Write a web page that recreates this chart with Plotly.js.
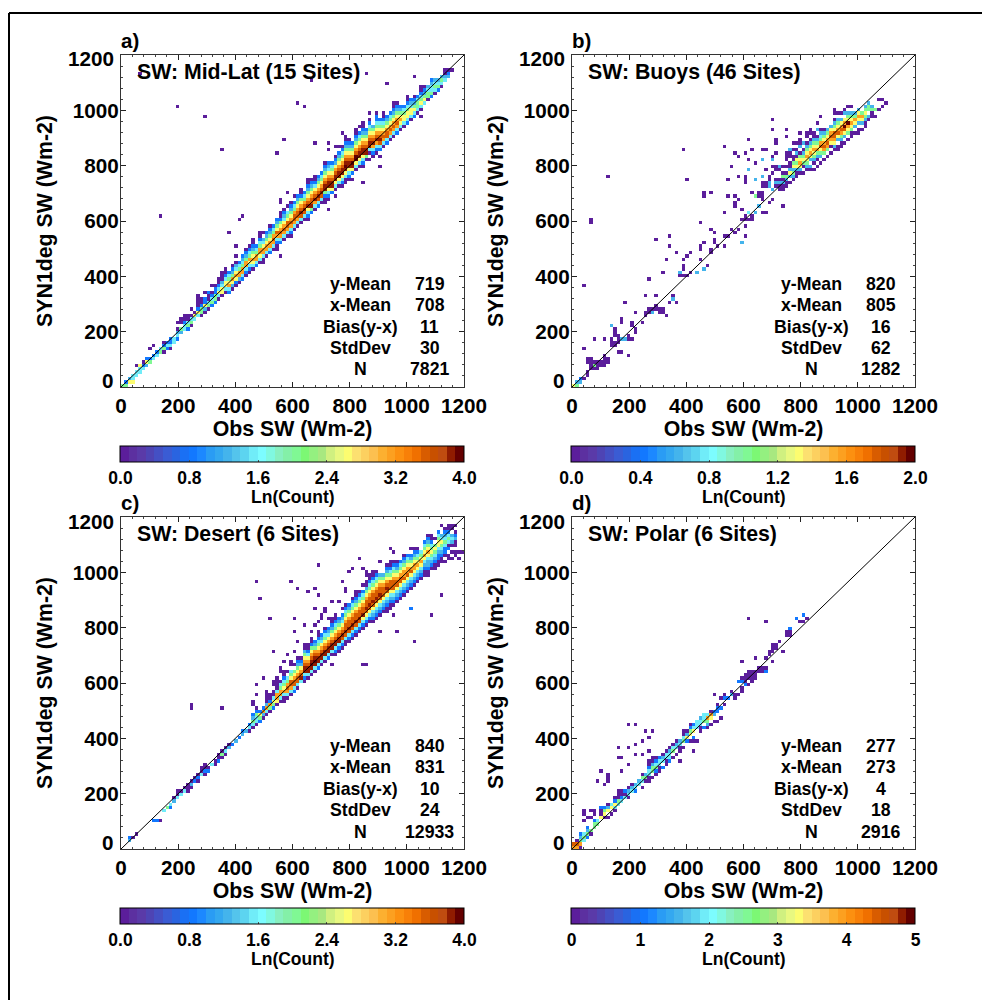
<!DOCTYPE html>
<html><head><meta charset="utf-8">
<script src="https://cdn.plot.ly/plotly-3.0.1.min.js"></script>
<style>html,body{margin:0;padding:0;background:#fff}</style></head>
<body><div id="chart" style="width:982px;height:1000px"></div>
<script>
const bandColors = ["#5b1e9b","#5c30a0","#5a3aa8","#4e44b4","#4450c4","#3a5cd4","#2a64e0","#1a70f4","#1278ff","#1c88ff","#2a9cf4","#34a8f0","#44b4ec","#54c4ec","#5cd4f0","#70ecf8","#7cfcff","#80f8e0","#88f0c0","#84f0a8","#80f894","#7cf874","#94f080","#a8e880","#d0f080","#e8f880","#fcfc70","#fce070","#fcd060","#fcc050","#fcb030","#fca020","#fc9010","#f88008","#f07000","#d85c00","#c85000","#c04c10","#901c00","#640000"];
// share of the colour-bar range for each cell level 0-9
const levelShare = [0.012,0.2,0.3,0.39,0.5,0.66,0.79,0.885,0.96,0.995];
const tickVals = [0,200,400,600,800,1000,1200];

// rows: [x bin, first y bin, levels upward; "." = empty]
const panelA = [
[0,0,"4"],[1,0,"41"],[2,1,"52"],[3,1,"533"],[4,3,"33.0"],[5,4,"335"],[6,5,"310"],[7,6,"251"],[8,7,"41..0"],[9,8,"31..0"],[10,9,"31"],[11,10,"43"],[12,10,"0410"],[13,11,"131"],[14,11,"0311"],[15,13,"33"],
[16,14,"1320.0"],[17,16,"24.00"],[18,17,"33100"],[19,17,"14300"],[20,18,"0430.0"],[21,20,"350"],[22,21,"3510000"],[23,21,"044100"],[24,22,"02511.0"],[25,23,"043001"],[26,24,"14310.0"],[27,25,"144110"],[28,26,"0353100"],[29,27,"05532000"],
[30,28,"03553100"],[31,28,"1365431"],[32,29,"02564210"],[33,30,"01565320.0"],[34,31,"0266431"],[35,32,"13664321"],[36,33,"013664210"],
[37,34,"013564310"],[38,35,"0356542100"],[39,36,"1366431"],[40,37,"0356643100"],[41,37,"00366532.0"],[42,39,"03665421"],[43,40,"136654210"],[44,41,"03676431"],[45,41,"0013675421"],[46,43,"1367654100"],[47,44,"0367653210"],[48,45,"03677543.0"],[49,45,"01367654210"],
[50,47,"036776431.0"],[51,48,"0367765421"],[52,49,"03787654100"],[53,50,"037876431"],[54,50,"0135876542100"],[55,52,"14877654210"],[56,53,"03687653100"],[57,54,"1378765421"],[58,55,"0378765431"],[59,55,"0014887654210"],
[60,56,"013588765321"],[61,58,"1588765431"],[62,59,"03588765210"],[63,60,"03588765421.0"],[64,60,"0135887654310"],[65,61,"00358987654210"],[66,62,"0135887654210"],[67,64,"1589765421"],[68,65,"0359976542100"],[69,66,"03588765431.0"],
[70,66,"01358876542100"],[71,68,"0488765421"],[72,68,"0.03887654310.0"],[73,69,"0136876542"],[74,70,"0136876543110"],[75,71,"1378765431"],[76,72,"03676543100"],[77,73,"137765421"],[78,74,"036765431"],[79,75,"03676542100"],
[80,76,"1367654210"],[81,77,"03565421"],[82,78,"0355431"],[83,79,"135543100"],[84,80,"0355321"],[85,81,"1354210"],[86,82,"034431"],[87,83,"03543100"],[88,85,"354210"],[89,86,"04432"],[90,87,"143321"],[91,88,"03432"],[92,89,"1432"],[93,90,"0342"],[94,92,"3200"],[95,93,"210"],[96,95,"0"],
[5,94,"0"],[16,84,"0"],[24,81,"0"],[29,71,"0"],[11,51,"0"],[45,70,"0"],[47,74,"0"],[51,85,"0"],[53,84,"0"],[71,94,"0"],[55,92,"0"],[77,91,"0"],[56,73,"0"],[60,73,"0"],[60,71,"0"],[62,72,"0"],[64,76,"0"],[65,75,"0"],[72,82,"0"],[85,93,"0"],[87,81,"0"],[46,39,"0"],[46,55,"00"],[48,58,"0"],[34,50,"0"],[35,51,"0"],[31,46,"0"],[33,42,"0"],[60,53,"0"],[62,57,"0"],[75,69,"0"],[75,66,"0"],[70,61,"0"],[67,62,"0"]
];
const panelB = [
[0,0,"5"],[1,0,"42"],[2,1,"21"],[3,2,"0"],[4,3,"00"],[3,30,"0"],[3,11,"0"],[4,7,"00"],[5,5,"0000"],[6,5,"040"],[6,14,"0"],[7,5,"000"],[8,6,"00"],[9,6,"0000"],[9,14,"0"],[10,7,"00"],[10,63,"0"],[5,49,"00"],
[11,12,"000"],[11,18,"2"],[12,12,"00"],[12,15,"000"],[13,10,"0..0"],[13,13,"0.0"],[14,10,"0"],[13,14,"0"],[14,14,"2"],[15,14,"2"],[14,19,"00"],[15,25,"0"],[16,9,"0"],[16,14,"00"],[17,14,"0"],[17,18,"00"],[18,16,"00"],[18,22,"0"],[20,19,"0"],[21,21,"00"],[22,22,"00"],[21,27,"0"],[22,32,"0"],[23,22,"20"],[24,23,"00"],[24,27,"0"],[24,44,"0"],[25,22,"00"],[26,22,"00"],[26,34,"0"],[27,21,"0"],[27,38,"0"],[28,25,"0"],[28,42,"0"],[28,45,"0"],[29,26,"20"],[30,25,"0"],[30,40,"0"],[31,33,"02"],[32,33,"0"],[32,35,"00"],[32,38,"0"],[33,33,"0"],[33,39,"0"],[33,62,"0"],[32,71,"0"],[34,34,"0"],[34,40,"0"],[36,34,"2"],[37,38,"0"],[37,41,"00"],[37,49,"0"],[38,35,"2"],[38,43,"0"],[38,57,"00"],[39,36,"0"],[40,40,"00"],[40,47,"0"],[40,58,"0"],[41,43,"00"],[41,46,"0"],[42,42,"0"],[44,42,"0"],[44,45,"0"],[44,52,"0"],[44,72,"0"],[45,45,"0"],[45,57,"0"],[45,62,"0"],[46,47,"0"],[46,66,"0"],[47,46,"0"],[47,54,"00"],[47,57,"0"],[47,70,"0"],[48,47,"0"],[48,56,"0"],[48,63,"0"],[48,69,"0"],[49,43,"2"],[49,50,"0..0"],[50,45,"0"],[50,48,"0.00"],[50,61,"000"],[50,70,"0"],[51,50,"0.3"],[51,65,"2"],[51,68,"0"],[51,74,"0"],[52,50,"00"],[52,58,"0"],[52,71,"0"],[53,52,"2"],[53,57,"4"],[53,62,"2"],[53,67,"0"],[54,54,"2"],[54,57,"00"],[55,52,"0"],[55,56,"000"],[55,60,"00"],[55,63,"2"],[55,68,"2"],[55,71,"0"],[56,52,"0"],[56,60,"00"],[56,65,"0"],[56,71,"0"],[57,55,"0"],[57,60,"2200"],[58,56,"0"],[58,59,"2"],[58,64,"0.0"],[58,68,"2"],[58,69,"0"],[58,77,"0"],[58,80,"0"],[59,60,"020"],[59,65,"00"],[59,70,"0"],[59,73,"00"],[62,75,"0"],[62,77,"0"],[61,54,"0"],
[60,59,"0020..02"],[61,59,"002040.0"],[62,60,"00240.0.000"],[63,61,"0.25200.002"],[64,62,"02425400.0.0"],[65,63,"002545020.0"],[66,64,"0256540.200.0"],[67,64,"0.045420.2"],[68,64,".024565420.00"],[69,65,"02.2565420.00"],[70,65,"0.0245654200"],[71,66,"0.02465420.2.0"],[72,67,"0.245764320...0"],
[73,68,"0.46765420"],[74,69,"0.4676542"],[75,70,"0.0567652"],[76,71,"0256775420.00"],[77,71,"00.2576542.0"],[78,72,"002467652.0"],[79,73,"0.257965.20"],[80,74,"0.4569542.0"],[81,75,"00456542.0"],[82,76,"0.25642"],[83,76,"00.25652"],[84,77,"0.2564"],[85,78,"0024542"],[86,80,"02.442"],[87,81,"0042"],[88,81,"0.4"],[89,83,"0..0"],[90,84,"0.0"],[91,85,"0"]
];
const panelC = [
[2,2,"21"],[3,3,"0"],[4,4,"0"],[9,8,"1"],[10,8,"1"],[11,8,"0"],[12,11,"3"],[13,12,"4"],[14,12,"1"],[14,13,"3"],[15,14,"20"],[15,15,"0"],[16,15,"3"],[16,16,"00"],[17,16,"31"],[17,17,"0"],[18,17,"30"],[18,18,"0"],[19,17,"0"],[19,18,"0"],[19,19,"0"],[20,18,"020"],[21,20,"10"],[22,20,"0"],[22,21,"10"],[23,22,"300"],[24,22,"0100"],[25,23,"10"],[26,25,"3"],[27,25,"04"],[27,26,"0"],[28,26,"1"],[28,27,"00"],[29,27,"0"],[29,28,"40"],[30,28,"0"],[30,29,"30"],[31,30,"20"],[32,31,"1"],[33,32,"2"],[34,33,"1"],[35,34,"21"],[36,35,"2"],[37,35,"031"],[38,36,"03421"],[39,37,"033410"],[40,38,"1451"],[41,39,"0261"],[42,40,"0362"],[43,41,"04610"],[44,42,"145300"],[45,43,"0566300"],[46,44,"0366430"],[47,44,"0036543100"],
[48,45,"0367643.0"],[49,46,"03677543.00"],[50,47,"1377654.0"],[51,48,"0377654210"],[52,50,"38765210"],[53,50,"013887654210"],[54,51,"03887653100"],[55,52,"038987654100"],[56,53,"0389876421"],[57,54,"13887654310"],[58,55,"0388765321"],[59,56,"03887654310"],
[60,57,"1388765321"],[61,58,"03887654210"],[62,58,"0138876543100"],[63,59,"01388765421"],[64,60,"01378765321"],[65,61,"0037877654310"],[66,62,"013787765421"],[67,63,"0137877654310"],[68,64,"01378776542100"],[69,65,"0137877654310"],[70,66,"013587765431.0"],[71,67,"01357877654200"],[72,68,"013578776543100"],[73,68,"0123578776543100"],[74,69,"012357877654310"],[75,70,"0123578776542"],[76,71,"012357776542"],[77,71,"001235787654210"],[78,72,"001235777543100"],[79,73,"01235777654310"],
[80,74,"0123577654210"],[81,75,"012357765431"],[82,76,"0123576654210"],[83,77,"012357665431"],[84,78,"01235765421.0"],[85,79,"012356654210"],[86,80,"01235654310"],[87,81,"012356543"],[88,82,"00123565431"],[89,82,"0012235654210"],[90,84,"01234543100"],[91,84,"00123454.0"],[92,85,"00112355431"],[93,86,"001234532"],[94,86,"0.011343210"],[95,87,"00.10343100"],[96,87,"0.0.0232.00"],[97,88,"00.00210.0"],[98,87,"0.0"],[99,89,"0"],[93,97,"0"],
[39,80,"0"],[49,80,"0"],[40,75,"0"],[51,78,"0"],[54,77,"0"],[56,78,"0"],[57,85,"0"],[57,76,"0"],[43,69,"0"],[50,69,"0"],[56,72,"0"],[59,71,"00"],[64,80,"0"],[61,74,"0"],[20,42,"00"],[29,42,"0"],[44,59,"0"],[50,59,"0"],[50,65,"0"],[53,67,"0"],[55,65,"0"],[57,65,"0"],[56,67,"0"],[41,51,"0"],[39,49,"0"],[42,47,"0"],[39,46,"0"],[38,43,"00"],[69,87,"0"],[67,84,"0"],[70,84,"0"],[90,70,"0"],[93,76,"0"],[85,62,"0"],[80,65,"0"],[75,65,"0"],[70,55,"0"],[71,55,"0"],[61,55,"0"],[84,72,"1"],[79,70,"0"],[78,90,"0"],[79,89,"0"],[75,86,"0"],[66,83,"0"],[71,82,"00"],[72,81,"0"],[73,83,"0"],[65,77,"00"],[63,74,"0"],[64,72,"0"],[60,69,"0"],[58,69,"00"],[57,68,"0"],[61,69,"0"],[55,62,"0"],[53,60,"0"],[51,62,"0"],[48,58,"0"],[46,53,"00"],[47,56,"0"],[44,49,"00"],[45,50,"00"],[42,44,"000"],[43,45,"00"]
];
const panelD = [
[0,0,"67"],[1,0,"670"],[2,0,"0642"],[2,4,"1"],[3,2,"343"],[3,8,"0"],[3,10,"00"],[4,3,"1421"],[4,9,"0"],[5,4,"04"],[5,5,"4"],[5,9,"0"],[5,11,"0"],[6,6,"441"],[6,10,"00"],[7,7,"4"],[7,8,"3"],[7,20,"0"],[8,9,"50"],[8,11,"01"],[8,23,"0"],[9,9,"0"],[9,10,"541"],[9,19,"0"],[10,9,"0"],[10,11,"52"],[10,13,"0"],[10,20,"000"],[11,10,"0"],[11,12,"53"],[12,11,"0"],[12,12,"3"],[12,13,"510"],[13,13,"3"],[13,14,"401"],[13,16,"00"],[13,27,"0"],[13,30,"0"],[14,14,"31"],[14,16,"00"],[14,23,"0"],[14,27,"0"],[15,15,"301"],[15,16,"0"],[16,15,"0"],[16,16,"32"],[16,18,"0"],[16,25,"0"],[16,30,"0"],[16,37,"0"],[17,17,"3"],[17,18,"20"],[18,17,"1"],[18,18,"32"],[18,28,"0"],[18,31,"0"],[18,37,"0"],[19,19,"30"],[19,20,"2"],[20,18,"0"],[20,20,"34"],[20,22,"0"],[20,28,"0"],[20,32,"0"],[21,20,"0"],[21,21,"42"],[21,35,"0"],[22,20,"00"],[22,22,"331"],[22,25,"00"],[22,29,"0"],[22,33,"0"],[23,21,"0"],[23,23,"44"],[23,25,"200"],[23,35,"0"],[24,22,"0"],[24,23,"1"],[24,24,"4"],[24,25,"310"],[25,23,"00"],[25,25,"33"],[25,27,"1"],[26,24,"1"],[26,26,"3"],[26,27,"20"],[27,25,"0"],[27,26,"03"],[27,28,"30"],[28,26,"1"],[28,27,"3"],[28,28,"32"],[28,30,"0"],[29,27,"0"],[29,29,"4"],[29,30,"30"],[30,28,"0"],[30,30,"3"],[30,31,"20"],[31,26,"0"],[31,29,"00"],[31,31,"32"],[32,30,"0"],[32,32,"43"],[32,34,"00"],[33,32,"1"],[33,33,"5"],[33,34,"2"],[33,35,"0"],[34,32,"0"],[34,34,"5"],[34,35,"41"],[34,37,"0"],[35,29,"0"],[35,32,"0"],[35,33,"1"],[35,35,"53"],[35,37,"1"],[36,32,"0"],[36,36,"333"],[37,35,"00"],[37,37,"33"],[37,39,"2"],[38,36,"1"],[38,38,"43"],[38,40,"3"],[39,36,"0"],[39,37,"2"],[39,38,"4"],[39,39,"63"],[40,37,"0"],[40,39,"5"],[40,40,"6"],[40,41,"0"],[41,38,"0"],[41,40,"2"],[41,41,"1"],
[42,38,"0"],[42,41,"11"],[42,43,"0"],[43,39,"0"],[43,42,"1"],[43,45,"0"],[41,46,"0"],[44,43,"0"],[44,45,"10"],[45,45,"1"],[46,46,"20"],[47,45,"00"],[48,46,"0"],[48,50,"1"],[49,47,"00"],[49,50,"10"],[50,49,"1"],[50,50,"00"],[50,52,"0"],[51,49,"0"],[51,51,"000"],[52,50,"0000"],[53,51,"000"],[54,53,"00"],[55,53,"00"],[56,53,"10"],
[49,56,"0"],[51,69,"0"],[53,57,"0"],[56,57,"0"],[56,68,"0"],[57,58,"00"],[58,56,"0"],[58,59,"000"],[59,60,"00"],[60,62,"0"],[61,59,"0"],[62,64,"00"],[63,64,"00"],[63,66,"1"],[65,69,"1"],[66,68,"0"],[67,68,"0"],[67,70,"1"],[68,69,"0"]
];

const bold = "'Liberation Sans', Arial, Helvetica, sans-serif";
const W = 982, H = 1000;
const panels = [
 {rows:panelA,lab:"a)",title:"SW: Mid-Lat (15 Sites)",st:[719,708,11,30,7821],zmax:4,cbt:[0,.8,1.6,2.4,3.2,4],cbf:".1f",L:121,T:55},
 {rows:panelB,lab:"b)",title:"SW: Buoys (46 Sites)",st:[820,805,16,62,1282],zmax:2,cbt:[0,.4,.8,1.2,1.6,2],cbf:".1f",L:572,T:55},
 {rows:panelC,lab:"c)",title:"SW: Desert (6 Sites)",st:[840,831,10,24,12933],zmax:4,cbt:[0,.8,1.6,2.4,3.2,4],cbf:".1f",L:121,T:517},
 {rows:panelD,lab:"d)",title:"SW: Polar (6 Sites)",st:[277,273,4,18,2916],zmax:5,cbt:[0,1,2,3,4,5],cbf:"d",L:572,T:517}
];
const statNames = ["y-Mean","x-Mean","Bias(y-x)","StdDev","N"];
const PW = 343, PH = 332, BIN = 12, NB = 100;
const scale = []; bandColors.forEach((c,k)=>{scale.push([k/40,c]);scale.push([(k+1)/40,c]);});

const traces=[], annotations=[];
const layout={width:W,height:H,margin:{l:0,r:0,t:0,b:0},paper_bgcolor:"#fff",plot_bgcolor:"#fff",showlegend:false,font:{family:bold,size:20,color:"#000",weight:700},
 shapes:[
  {type:"line",xref:"paper",yref:"paper",x0:9/W,x1:1,y0:1-13/H,y1:1-13/H,line:{color:"#000",width:2}},
  {type:"line",xref:"paper",yref:"paper",x0:9/W,x1:9/W,y0:1-13/H,y1:0,line:{color:"#000",width:2}}
 ]};
const px=(x)=>x/W, py=(y)=>1-y/H;
function ann(text,x,y,size,anchor){annotations.push({text,xref:"paper",yref:"paper",x:px(x),y:py(y),xanchor:anchor||"center",yanchor:"middle",showarrow:false,font:{family:bold,size,color:"#000",weight:700}});}

panels.forEach((p,n)=>{
 const sx=n?String(n+1):"", xa="xaxis"+sx, ya="yaxis"+sx;
 const z=Array.from({length:NB},()=>Array(NB).fill(null));
 p.rows.forEach(([i,j0,s])=>{[...s].forEach((c,k)=>{ if(c!=="."&&j0+k<NB&&i<NB) z[j0+k][i]=levelShare[+c]*p.zmax; });});
 traces.push({type:"heatmap",x0:BIN/2,dx:BIN,y0:BIN/2,dy:BIN,z,xaxis:"x"+sx,yaxis:"y"+sx,zmin:0,zmax:p.zmax,colorscale:scale,hoverongaps:false,
  colorbar:{orientation:"h",lenmode:"pixels",len:344,thicknessmode:"pixels",thickness:16,xref:"paper",yref:"paper",x:px(p.L+171.5),xanchor:"center",y:py(p.T+391),yanchor:"top",xpad:0,ypad:0,outlinecolor:"#000",outlinewidth:1,
   tickmode:"array",tickvals:p.cbt,ticktext:p.cbt.map(v=>p.cbf==="d"?String(v):v.toFixed(1)),ticks:"inside",ticklen:2,tickcolor:"#555",tickfont:{family:bold,size:17.5,weight:700,color:"#000"}}});
 traces.push({type:"scatter",mode:"lines",x:[0,1200],y:[0,1200],xaxis:"x"+sx,yaxis:"y"+sx,line:{color:"#000",width:1},hoverinfo:"skip"});
 const common={range:[0,1200],autorange:false,showgrid:false,zeroline:false,showline:true,linecolor:"#333",linewidth:1,mirror:"allticks",ticks:"inside",ticklen:5,tickcolor:"#222",tickwidth:1,fixedrange:true,
   minor:{dtick:40,ticks:"inside",ticklen:2,tickcolor:"#444",tickwidth:1,showgrid:false},tickfont:{family:bold,size:20.7,weight:700,color:"#000"}};
 layout[xa]=Object.assign({},common,{anchor:"y"+sx,domain:[px(p.L),px(p.L+PW)],tickmode:"array",tickvals:tickVals,ticktext:tickVals.map(String),ticklabelstandoff:0,
   title:{text:"Obs SW (Wm-2)",standoff:0,font:{family:bold,size:21.3,weight:700,color:"#000"}}});
 layout[ya]=Object.assign({},common,{anchor:"x"+sx,domain:[py(p.T+PH),py(p.T)],tickmode:"array",tickvals:tickVals.slice(1,6),ticktext:tickVals.slice(1,6).map(String),ticklabelstandoff:-3,
   title:{text:"SYN1deg SW (Wm-2)",standoff:14,font:{family:bold,size:21.3,weight:700,color:"#000"}}});
 ann(p.lab,p.L-2,p.T-14.5,20.5,"left");
 ann(p.title,p.L+13.7,p.T+17,21.3,"left");
 ann("Ln(Count)",p.L+172,p.T+442,17.5);
 // end tick labels sit inside the axis span, as in the reference
 annotations.push({text:"1200",xref:"paper",yref:"paper",x:px(p.L-5),y:py(p.T+4),xanchor:"right",yanchor:"middle",showarrow:false,font:{family:bold,size:20.7,weight:700,color:"#000"}});
 annotations.push({text:"0",xref:"paper",yref:"paper",x:px(p.L-5),y:py(p.T+325),xanchor:"right",yanchor:"middle",showarrow:false,font:{family:bold,size:20.7,weight:700,color:"#000"}});
 statNames.forEach((nm,k)=>{
  const y=p.T+228.5+k*21.5;
  ann(nm,p.L+239.5,y,17.7);
  ann(String(p.st[k]),p.L+308.5,y,17.7);
 });
});
layout.annotations=annotations;
Plotly.newPlot("chart",traces,layout,{staticPlot:true,displayModeBar:false});
</script></body></html>
